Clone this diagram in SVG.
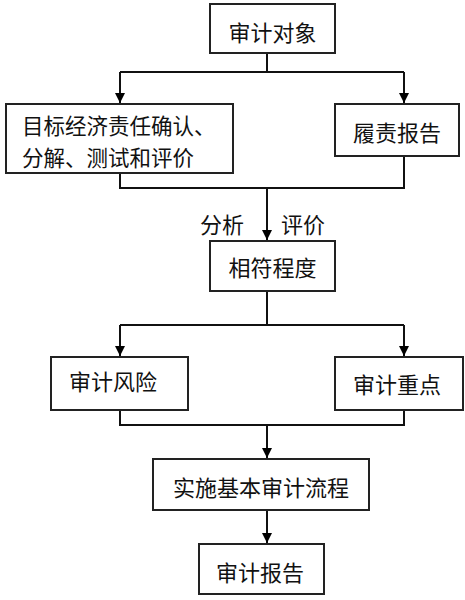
<svg xmlns="http://www.w3.org/2000/svg" width="465" height="600" viewBox="0 0 465 600">
<defs>
<marker id="arr" markerWidth="12" markerHeight="12" refX="10" refY="5" orient="auto" markerUnits="userSpaceOnUse">
<path d="M0,0 L10,5 L0,10 Z" fill="#000"/>
</marker>
<style>
.box{fill:#fff;stroke:#222;stroke-width:2}
.t{font-family:"Noto Sans CJK SC","Liberation Sans",sans-serif;font-size:22px;fill:#111;dominant-baseline:central}
.s{font-size:21.5px}
.c{text-anchor:middle}
.ln{fill:none;stroke:#111;stroke-width:2}
</style>
</defs>
<rect width="465" height="600" fill="#fff"/>
<g id="connectors">
<path class="ln" d="M267,53 V72 M120,72 H404"/>
<path class="ln" d="M120,72 V103" marker-end="url(#arr)"/>
<path class="ln" d="M404,72 V103" marker-end="url(#arr)"/>
<path class="ln" d="M120,173 V188 H404 V156"/>
<path class="ln" d="M267,188 V240" marker-end="url(#arr)"/>
<path class="ln" d="M267,291 V325 M120,325 H404"/>
<path class="ln" d="M120,325 V356" marker-end="url(#arr)"/>
<path class="ln" d="M404,325 V356" marker-end="url(#arr)"/>
<path class="ln" d="M120,410 V425 H404 V410"/>
<path class="ln" d="M267,425 V458" marker-end="url(#arr)"/>
<path class="ln" d="M267,510 V543" marker-end="url(#arr)"/>
<text class="t c" x="222" y="223">分析</text>
<text class="t c" x="303" y="223">评价</text>
</g>
<g id="n1"><rect class="box" x="210" y="4" width="125" height="49"/><text class="t c" x="272.5" y="31">审计对象</text></g>
<g id="n2"><rect class="box" x="6" y="104" width="227" height="69"/><text class="t s" x="22" y="124">目标经济责任确认、</text><text class="t s" x="22" y="156">分解、测试和评价</text></g>
<g id="n3"><rect class="box" x="335" y="104" width="124" height="52"/><text class="t c" x="397" y="131">履责报告</text></g>
<g id="n4"><rect class="box" x="210" y="241" width="125" height="50"/><text class="t c" x="272.5" y="266">相符程度</text></g>
<g id="n5"><rect class="box" x="51" y="357" width="137" height="53"/><text class="t c" x="113" y="380">审计风险</text></g>
<g id="n6"><rect class="box" x="335" y="357" width="128" height="53"/><text class="t c" x="397" y="383">审计重点</text></g>
<g id="n7"><rect class="box" x="153" y="459" width="216" height="51"/><text class="t c" x="261" y="486">实施基本审计流程</text></g>
<g id="n8"><rect class="box" x="199" y="544" width="125" height="50"/><text class="t c" x="260" y="571">审计报告</text></g>
</svg>
